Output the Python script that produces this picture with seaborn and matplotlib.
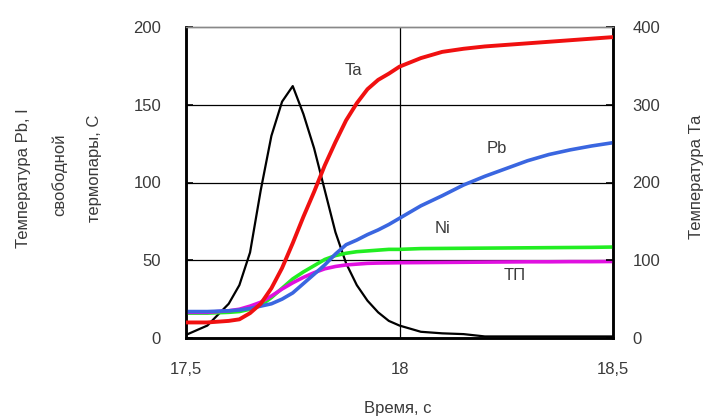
import matplotlib
matplotlib.use("Agg")
import matplotlib.pyplot as plt
import seaborn as sns
import pandas as pd

# Time axis, s
time = [17.50, 17.55, 17.60, 17.625, 17.65, 17.675, 17.70, 17.725, 17.75, 17.775,
        17.80, 17.825, 17.85, 17.875, 17.90, 17.925, 17.95, 17.975, 18.00, 18.05,
        18.10, 18.15, 18.20, 18.25, 18.30, 18.35, 18.40, 18.45, 18.50]

# Current pulse (left axis)
current_I = [2, 8, 22, 34, 55, 95, 130, 152, 162, 144,
             122, 95, 68, 48, 34, 24, 16.5, 11, 8, 4,
             3, 2.5, 1, 1, 1, 1, 1, 1, 1]
# Temperatures on the left axis, C
temp_Pb = [17, 17, 17.5, 18, 19, 20.5, 22, 25, 29, 35,
           41, 47, 54, 60, 63, 66.5, 69.5, 73, 77, 85,
           91.5, 98.4, 104, 109, 114, 118, 121, 123.5, 125.6]
temp_Ni = [16, 16, 16.5, 17, 18.5, 21, 26, 32, 38, 42.5,
           46.5, 50.5, 53, 54.5, 55.5, 56, 56.5, 57, 57, 57.5,
           57.6, 57.7, 57.8, 57.9, 58, 58.1, 58.2, 58.3, 58.5]
temp_TP = [16.5, 16.5, 17.5, 18.5, 20.5, 23, 27, 31.5, 35.5, 39,
           42, 44.5, 46, 47, 47.5, 48, 48.2, 48.3, 48.4, 48.5,
           48.6, 48.7, 48.8, 48.9, 49, 49, 49.1, 49.1, 49.2]
# Ta temperature on the right axis, C
temp_Ta = [20, 20, 22, 24, 32, 44, 64, 90, 122, 156,
           188, 222, 252, 280, 302, 320, 332, 340, 349, 360,
           368, 372, 375, 377, 379, 381, 383, 385, 387]

x_ticks = [17.5, 18.0, 18.5]
x_tick_labels = ["17,5", "18", "18,5"]
left_ticks = [0, 50, 100, 150, 200]
right_ticks = [0, 100, 200, 300, 400]

df = pd.DataFrame({"t": time, "I": current_I, "Pb": temp_Pb, "Ni": temp_Ni,
                   "TP": temp_TP, "Ta": temp_Ta})

sns.set_style("white")
plt.rcParams["font.family"] = ["Liberation Sans", "DejaVu Sans"]
txt = "#3a3a3a"

fig = plt.figure(figsize=(7.12, 4.16), dpi=100)
ax = fig.add_axes([186 / 712, 1 - 338 / 416, 427 / 712, 311 / 416])
ax2 = ax.twinx()

# grid
for yv in [50, 100, 150]:
    ax.axhline(yv, color="black", lw=0.9, zorder=0)
ax.axvline(18.0, color="black", lw=0.9, zorder=0)

sns.lineplot(data=df, x="t", y="I", ax=ax, color="black", lw=1.6, zorder=2)
sns.lineplot(data=df, x="t", y="Ni", ax=ax, color="#22ee22", lw=2.6, zorder=3)
sns.lineplot(data=df, x="t", y="TP", ax=ax, color="#e010e0", lw=2.6, zorder=4)
sns.lineplot(data=df, x="t", y="Pb", ax=ax, color="#3a66e0", lw=2.6, zorder=5)
sns.lineplot(data=df, x="t", y="Ta", ax=ax2, color="#f01010", lw=2.8, zorder=6)

ax.set_xlim(17.5, 18.5)
ax.set_ylim(0, 200)
ax2.set_ylim(0, 400)
ax.set_xticks(x_ticks)
ax.set_xticklabels(x_tick_labels)
ax.set_yticks(left_ticks)
ax2.set_yticks(right_ticks)
ax.set_xlabel("")
ax.set_ylabel("")
ax2.set_ylabel("")

for a in (ax, ax2):
    for side in ["left", "right", "bottom"]:
        a.spines[side].set_color("black")
        a.spines[side].set_linewidth(1.8)
    a.spines["top"].set_color("#888888")
    a.spines["top"].set_linewidth(1.0)
ax.tick_params(axis="y", direction="in", length=5, width=1.2, colors="black",
               labelcolor=txt, labelsize=12, pad=18)
ax.tick_params(axis="x", direction="in", length=0, labelcolor=txt, labelsize=12, pad=17)
ax2.tick_params(axis="y", direction="in", length=5, width=1.2, colors="black",
                labelcolor=txt, labelsize=12, pad=14)

# series labels
ax2.text(17.891, 344, "Ta", fontsize=12, color=txt, ha="center", va="center")
ax.text(18.228, 122, "Pb", fontsize=12, color=txt, ha="center", va="center")
ax.text(18.10, 70.5, "Ni", fontsize=12, color=txt, ha="center", va="center")
ax.text(18.27, 40.5, "ТП", fontsize=12, color=txt, ha="center", va="center")

# axis titles
fig.text(24 / 712, 1 - 178 / 416, "Температура Pb, I", rotation=90,
         ha="center", va="center", fontsize=12, color=txt)
fig.text(59 / 712, 1 - 175 / 416, "свободной", rotation=90,
         ha="center", va="center", fontsize=12, color=txt)
fig.text(95 / 712, 1 - 168 / 416, "термопары, С", rotation=90,
         ha="center", va="center", fontsize=12, color=txt)
fig.text(697 / 712, 1 - 177 / 416, "Температура Та", rotation=90,
         ha="center", va="center", fontsize=12, color=txt)
fig.text(398 / 712, 1 - 408 / 416, "Время, с", ha="center", va="center",
         fontsize=12, color=txt)

fig.savefig("out.png", dpi=100)
